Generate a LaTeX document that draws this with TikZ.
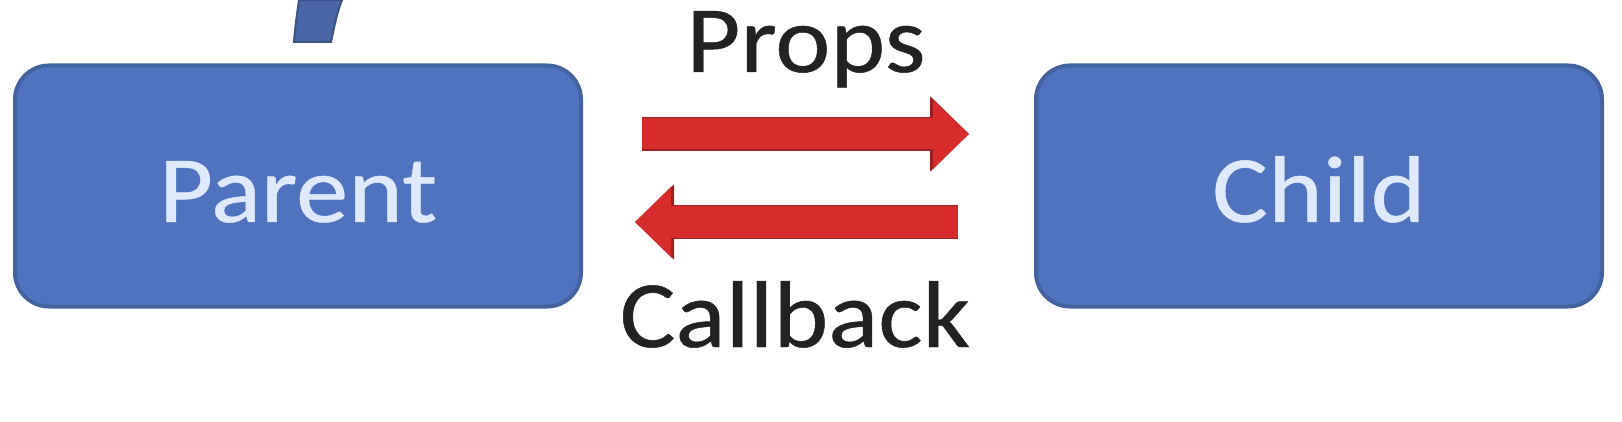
\documentclass[tikz,border=0pt]{standalone}
\usepackage{fontspec}
\setmainfont{Carlito}
\newfontfamily\widefont[FakeStretch=1.1,FakeBold=0.5]{Carlito}
\usetikzlibrary{arrows.meta}
\definecolor{boxfill}{RGB}{80,115,192}
\definecolor{boxline}{RGB}{66,98,160}
\definecolor{boxtext}{RGB}{222,234,252}
\definecolor{arrred}{RGB}{214,44,44}
\definecolor{arrdark}{RGB}{160,32,32}
\definecolor{curveblue}{RGB}{72,102,165}
\definecolor{labelgray}{RGB}{34,34,34}
\tikzset{
  bluebox/.style={draw=boxline, fill=boxfill, line width=4pt, rounded corners=34pt,
    minimum width=566pt, minimum height=241pt, outer sep=0pt, inner sep=0pt,
    text=boxtext, font=\widefont\fontsize{95}{100}\selectfont, text height=72pt, text depth=0pt},
  redarrow/.style={draw=arrred, line width=31pt,
    -{Triangle[length=36pt,width=68pt]},
    preaction={draw=arrdark, line width=34pt, -{Triangle[length=39pt,width=73pt]}}},
  lbl/.style={text=labelgray, font=\widefont\fontsize{95}{100}\selectfont, anchor=base, inner sep=0pt}
}
\begin{document}
\begin{tikzpicture}[x=1pt,y=-1pt]
\useasboundingbox[fill=white] (0,0) rectangle (1622,422);
% partial stroke at top
\filldraw[fill=curveblue, draw=curveblue!80!black, line width=2pt]
  (294,42) -- (331,42) .. controls (334,28) and (337,12) .. (342,0)
  -- (299,0) .. controls (297,14) and (295,28) .. cycle;
\node[bluebox] (Parent) at (298,186) {Parent};
\node[bluebox] (Child) at (1319,186) {Child};
\node[lbl] (props) at (806,72) {Props};
\node[lbl] (callback) at (795,347) {Callback};
\draw[redarrow, shorten <=61pt, shorten >=67pt]
  ([yshift=52pt]Parent.east) -- ([yshift=52pt]Child.west);
\draw[redarrow, shorten <=78pt, shorten >=54pt]
  ([yshift=-36pt]Child.west) -- ([yshift=-36pt]Parent.east);
\end{tikzpicture}
\end{document}
